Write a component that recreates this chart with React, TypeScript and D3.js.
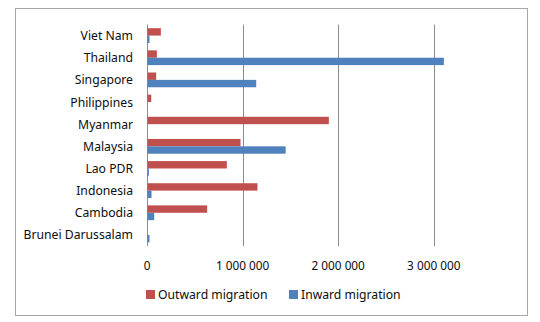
import React from "react";
import * as d3 from "d3";

const categories = [
  "Viet Nam",
  "Thailand",
  "Singapore",
  "Philippines",
  "Myanmar",
  "Malaysia",
  "Lao PDR",
  "Indonesia",
  "Cambodia",
  "Brunei Darussalam",
];
const outward = [140000, 98000, 91000, 39000, 1897000, 973000, 830000, 1150000, 624000, 0];
const inward = [21000, 3100000, 1137000, 0, 0, 1445000, 14000, 42000, 70000, 21000];
const seriesNames = ["Outward migration", "Inward migration"];
const seriesColors = ["#C0504D", "#4F81BD"];
const tickValues = [0, 1000000, 2000000, 3000000];

const W = 540;
const H = 322;
const FONT = "'Noto Sans', sans-serif";

export default function App() {
  const x = d3.scaleLinear().domain([0, 3500000]).range([147, 481.6]);
  const y = d3.scaleBand<string>().domain(categories).range([24.5, 246]).paddingInner(0).paddingOuter(0);
  const inner = d3
    .scaleBand<string>()
    .domain(seriesNames)
    .range([0, y.bandwidth()])
    .paddingInner(0)
    .paddingOuter(0.5);
  const fmt = d3
    .formatLocale({ thousands: " ", grouping: [3], decimal: ".", currency: ["", ""] })
    .format(",");
  const series = [outward, inward];
  const [y0, y1] = y.range();

  return (
    <svg
      width={W}
      height={H}
      style={{ position: "absolute", left: 0, top: 0, background: "#fff" }}
      fontFamily={FONT}
    >
      <rect x={15.5} y={8.5} width={512} height={307} fill="#fff" stroke="#a6a6a6" strokeWidth={1} />
      {tickValues.map((t) => (
        <line
          key={t}
          x1={Math.round(x(t)) + 0.5}
          x2={Math.round(x(t)) + 0.5}
          y1={y0}
          y2={y1}
          stroke="#8c8c8c"
          strokeWidth={1}
        />
      ))}
      {categories.map((c, i) => (
        <g key={c}>
          {series.map((s, k) => {
            const v = s[i];
            if (!v) return null;
            return (
              <rect
                key={k}
                x={x(0) + 0.5}
                y={(y(c) as number) + (inner(seriesNames[k]) as number)}
                width={x(v) - x(0)}
                height={inner.bandwidth()}
                fill={seriesColors[k]}
              />
            );
          })}
          <text
            x={133}
            y={(y(c) as number) + y.bandwidth() / 2}
            textAnchor="end"
            dominantBaseline="central"
            fontSize={12.2}
            fill="#0d0d0d"
          >
            {c}
          </text>
        </g>
      ))}
      {tickValues.map((t) => (
        <text
          key={"l" + t}
          x={x(t)}
          y={264.5}
          textAnchor="middle"
          dominantBaseline="central"
          fontSize={11.8}
          fill="#0d0d0d"
        >
          {fmt(t)}
        </text>
      ))}
      {seriesNames.map((n, k) => {
        const lx = [146, 289][k];
        return (
          <g key={n}>
            <rect x={lx} y={290} width={9} height={9} fill={seriesColors[k]} />
            <text x={lx + 12} y={294.5} dominantBaseline="central" fontSize={12.2} fill="#0d0d0d">
              {n}
            </text>
          </g>
        );
      })}
    </svg>
  );
}
